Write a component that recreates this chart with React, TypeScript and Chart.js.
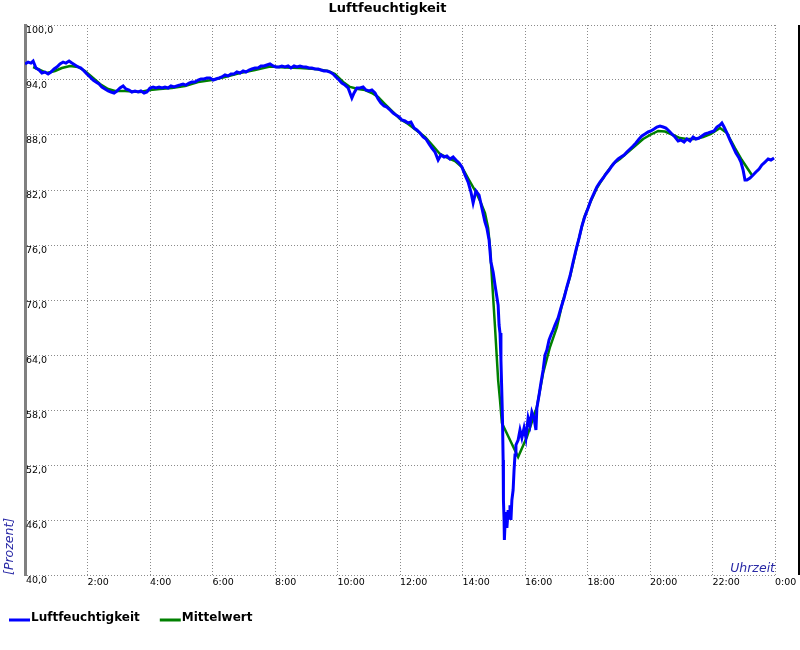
import React, { useEffect, useRef } from 'react';
import { Chart, registerables } from 'chart.js';

Chart.register(...registerables);

// ---------- texts ----------
const chartTitle = 'Luftfeuchtigkeit';
const yAxisTitle = '[Prozent]';
const xAxisTitle = 'Uhrzeit';
const seriesNames = ['Luftfeuchtigkeit', 'Mittelwert'];

// ---------- axes ----------
const yMin = 40;
const yMax = 100;
const yStep = 6;
const xMin = 0;
const xMax = 24;
const xStep = 2;

// ---------- series: Luftfeuchtigkeit (hours, percent) ----------
const humidityHours = [
  0.0, 0.1, 0.19, 0.26, 0.35, 0.45, 0.54, 0.64, 0.74, 0.83, 0.93, 1.02, 1.12, 1.22, 1.31, 1.41, 1.5, 1.6, 1.7, 1.79,
  1.89, 1.98, 2.08, 2.18, 2.27, 2.37, 2.46, 2.56, 2.66, 2.75, 2.85, 2.94, 3.04, 3.14, 3.23, 3.33, 3.42, 3.52, 3.62, 3.71,
  3.81, 3.9, 4.0, 4.1, 4.19, 4.29, 4.38, 4.48, 4.58, 4.67, 4.77, 4.86, 4.96, 5.06, 5.15, 5.25, 5.34, 5.44, 5.54, 5.63,
  5.73, 5.82, 5.92, 6.02, 6.11, 6.21, 6.3, 6.4, 6.5, 6.59, 6.69, 6.78, 6.88, 6.98, 7.07, 7.17, 7.26, 7.36, 7.46, 7.55,
  7.65, 7.74, 7.84, 7.94, 8.03, 8.13, 8.22, 8.32, 8.42, 8.51, 8.61, 8.7, 8.8, 8.9, 8.99, 9.09, 9.18, 9.28, 9.38, 9.47,
  9.57, 9.66, 9.76, 9.86, 9.95, 10.05, 10.14, 10.24, 10.34, 10.4, 10.46, 10.53, 10.62, 10.72, 10.82, 10.91, 11.01, 11.1, 11.2, 11.3,
  11.39, 11.49, 11.58, 11.68, 11.78, 11.87, 11.97, 12.06, 12.16, 12.26, 12.35, 12.45, 12.54, 12.64, 12.74, 12.83, 12.93, 13.02, 13.12, 13.22,
  13.31, 13.41, 13.5, 13.6, 13.7, 13.79, 13.89, 13.98, 14.08, 14.18, 14.27, 14.34, 14.43, 14.53, 14.62, 14.72, 14.78, 14.85, 14.91, 14.98,
  15.04, 15.1, 15.14, 15.17, 15.2, 15.23, 15.26, 15.28, 15.3, 15.31, 15.33, 15.34, 15.36, 15.39, 15.42, 15.46, 15.49, 15.52, 15.55, 15.58,
  15.62, 15.65, 15.68, 15.71, 15.78, 15.84, 15.9, 15.97, 16.03, 16.1, 16.16, 16.22, 16.29, 16.35, 16.38, 16.45, 16.51, 16.58, 16.64, 16.7,
  16.77, 16.83, 16.9, 16.96, 17.06, 17.15, 17.25, 17.34, 17.44, 17.54, 17.63, 17.73, 17.82, 17.92, 18.02, 18.11, 18.21, 18.3, 18.4, 18.5,
  18.59, 18.69, 18.78, 18.88, 18.98, 19.07, 19.17, 19.26, 19.36, 19.46, 19.55, 19.65, 19.74, 19.84, 19.94, 20.03, 20.13, 20.22, 20.32, 20.42,
  20.51, 20.61, 20.7, 20.8, 20.9, 20.99, 21.09, 21.18, 21.28, 21.38, 21.47, 21.57, 21.66, 21.76, 21.86, 21.95, 22.05, 22.14, 22.24, 22.3,
  22.37, 22.46, 22.56, 22.66, 22.75, 22.85, 22.91, 22.98, 23.04, 23.1, 23.2, 23.3, 23.39, 23.49, 23.58, 23.68, 23.78, 23.87, 23.97,
];
const humidityValues = [
  95.75, 95.96, 95.85, 96.07, 95.31, 95.09, 94.76, 94.87, 94.65, 94.87, 95.2, 95.42, 95.75, 95.96, 95.85, 96.07, 95.85, 95.64, 95.42, 95.31,
  94.98, 94.65, 94.33, 94.0, 93.78, 93.56, 93.24, 93.02, 92.8, 92.69, 92.58, 92.8, 93.13, 93.35, 93.02, 92.91, 92.69, 92.8, 92.69, 92.8,
  92.58, 92.69, 93.13, 93.24, 93.13, 93.24, 93.13, 93.24, 93.13, 93.35, 93.24, 93.35, 93.45, 93.56, 93.45, 93.67, 93.78, 93.78, 94.0, 94.11,
  94.11, 94.22, 94.22, 94.0, 94.11, 94.22, 94.33, 94.55, 94.44, 94.65, 94.65, 94.87, 94.76, 94.98, 94.87, 95.09, 95.2, 95.31, 95.31, 95.53,
  95.53, 95.64, 95.75, 95.53, 95.42, 95.42, 95.53, 95.42, 95.53, 95.31, 95.53, 95.42, 95.53, 95.42, 95.42, 95.31, 95.31, 95.2, 95.2, 95.09,
  94.98, 94.98, 94.87, 94.65, 94.33, 94.0, 93.67, 93.45, 93.13, 92.58, 92.04, 92.58, 93.13, 93.13, 93.24, 92.91, 92.8, 92.91, 92.58, 91.93,
  91.49, 91.16, 91.05, 90.73, 90.4, 90.18, 89.96, 89.64, 89.53, 89.31, 89.42, 88.76, 88.55, 88.22, 87.78, 87.56, 87.02, 86.58, 86.15, 85.27,
  85.82, 85.6, 85.71, 85.38, 85.6, 85.27, 84.95, 84.51, 83.64, 82.87, 81.78, 80.58, 81.89, 81.45, 80.04, 78.51, 77.85, 76.55, 74.15, 73.05,
  71.64, 70.33, 69.45, 67.27, 66.4, 63.45, 59.64, 56.91, 52.55, 48.18, 46.0, 43.82, 45.45, 46.87, 45.13, 47.09, 46.22, 47.6, 46.0, 48.18,
  49.27, 51.45, 53.09, 54.18, 54.73, 55.82, 54.96, 56.04, 54.96, 57.13, 56.36, 57.78, 57.13, 55.82, 58.22, 59.64, 60.95, 62.36, 64.0, 64.55,
  65.64, 66.18, 66.73, 67.27, 68.04, 69.13, 70.22, 71.42, 72.62, 74.15, 75.45, 76.76, 78.07, 79.16, 80.04, 80.91, 81.67, 82.33, 82.87, 83.31,
  83.75, 84.18, 84.62, 85.05, 85.38, 85.6, 85.82, 86.15, 86.47, 86.8, 87.13, 87.56, 87.89, 88.11, 88.33, 88.44, 88.65, 88.87, 88.98, 88.87,
  88.76, 88.44, 88.11, 87.78, 87.35, 87.45, 87.24, 87.56, 87.35, 87.78, 87.56, 87.67, 87.89, 88.11, 88.22, 88.33, 88.44, 88.87, 89.09, 89.31,
  88.87, 88.22, 87.45, 86.69, 86.04, 85.49, 85.05, 84.18, 83.09, 83.09, 83.31, 83.64, 83.96, 84.29, 84.73, 85.05, 85.38, 85.27, 85.49,
];

// ---------- series: Mittelwert (hours, percent) ----------
const meanHours = [
  0.26, 0.48, 0.7, 0.96, 1.18, 1.44, 1.7, 1.92, 2.18, 2.4, 2.66, 2.88, 3.2, 3.68, 4.0, 4.32, 4.7, 5.12, 5.54, 5.98,
  6.4, 6.88, 7.36, 7.84, 8.32, 8.8, 9.28, 9.7, 9.92, 10.18, 10.4, 10.66, 10.88, 11.1, 11.3, 11.52, 11.74, 12.0, 12.26, 12.51,
  12.8, 13.06, 13.28, 13.54, 13.76, 13.98, 14.21, 14.43, 14.59, 14.72, 14.82, 14.88, 14.94, 15.04, 15.14, 15.2, 15.26, 15.78, 16.06, 16.38,
  16.58, 16.8, 17.02, 17.22, 17.44, 17.66, 17.89, 18.08, 18.3, 18.56, 18.82, 19.04, 19.26, 19.52, 19.78, 20.0, 20.26, 20.48, 20.74, 20.96,
  21.18, 21.44, 21.7, 21.95, 22.24, 22.46, 22.72, 22.94, 23.26,
];
const meanValues = [
  95.42, 95.09, 94.76, 94.98, 95.31, 95.53, 95.42, 94.98, 94.22, 93.56, 93.02, 92.8, 92.8, 92.69, 92.91, 93.02, 93.13, 93.35, 93.78, 94.0,
  94.33, 94.76, 95.09, 95.47, 95.36, 95.31, 95.2, 94.98, 94.65, 93.78, 93.24, 93.02, 92.91, 92.58, 92.15, 91.38, 90.62, 89.75, 89.2, 88.55,
  87.78, 86.8, 85.93, 85.49, 85.16, 84.51, 83.09, 81.78, 80.58, 79.49, 77.85, 75.78, 72.51, 67.05, 61.27, 59.09, 56.58, 52.87, 55.05, 58.33,
  62.04, 64.87, 67.05, 70.0, 72.51, 75.78, 78.95, 80.58, 82.22, 83.64, 84.84, 85.38, 86.04, 86.8, 87.56, 88.0, 88.44, 88.38, 88.0, 87.67,
  87.56, 87.56, 87.78, 88.11, 88.76, 88.22, 86.58, 85.27, 83.64,
];

const FONT = 'DejaVu Sans';
const AXIS_TEXT_COLOR = '#2a2aa6';

const xTitlePlugin = {
  id: 'xTitleInside',
  afterDraw(chart: any) {
    const { ctx, chartArea } = chart;
    ctx.save();
    ctx.font = `italic 12.5px "${FONT}"`;
    ctx.fillStyle = AXIS_TEXT_COLOR;
    ctx.textAlign = 'right';
    ctx.textBaseline = 'alphabetic';
    ctx.fillText(xAxisTitle, chartArea.right, chartArea.bottom - 3);
    ctx.restore();
  },
};

const frameEdgePlugin = {
  id: 'frameEdge',
  afterDraw(chart: any) {
    const { ctx, chartArea } = chart;
    ctx.save();
    ctx.strokeStyle = '#000000';
    ctx.lineWidth = 2;
    ctx.beginPath();
    ctx.moveTo(chart.width - 1, chartArea.top);
    ctx.lineTo(chart.width - 1, chartArea.bottom);
    ctx.stroke();
    ctx.restore();
  },
};

const bottomLegendPlugin = {
  id: 'bottomLegend',
  afterDraw(chart: any) {
    const { ctx } = chart;
    const y = chart.height - 30;
    let x = 9;
    ctx.save();
    ctx.font = `bold 12px "${FONT}"`;
    ctx.textBaseline = 'alphabetic';
    ctx.textAlign = 'left';
    chart.data.datasets.forEach((ds: any) => {
      ctx.strokeStyle = ds.borderColor;
      ctx.lineWidth = 3;
      ctx.beginPath();
      ctx.moveTo(x, y);
      ctx.lineTo(x + 21, y);
      ctx.stroke();
      x += 22;
      ctx.fillStyle = '#000000';
      ctx.fillText(ds.label, x, y + 1);
      x += ctx.measureText(ds.label).width + 20;
    });
    ctx.restore();
  },
};

export default function App() {
  const canvasRef = useRef<HTMLCanvasElement | null>(null);

  useEffect(() => {
    if (!canvasRef.current) return;
    const toPoints = (xs: number[], ys: number[]) => xs.map((x, i) => ({ x, y: ys[i] }));
    const chart = new Chart(canvasRef.current, {
      type: 'line',
      data: {
        datasets: [
          {
            label: seriesNames[0],
            data: toPoints(humidityHours, humidityValues),
            borderColor: '#0000ff',
            borderWidth: 3,
            pointRadius: 0,
            tension: 0,
          },
          {
            label: seriesNames[1],
            data: toPoints(meanHours, meanValues),
            borderColor: '#008000',
            borderWidth: 2.5,
            pointRadius: 0,
            tension: 0,
          },
        ],
      },
      options: {
        animation: false,
        responsive: false,
        parsing: false as any,
        layout: { padding: { left: 0, right: 25, top: 0, bottom: 50 } },
        plugins: {
          legend: { display: false },
          tooltip: { enabled: false },
          title: {
            display: true,
            text: chartTitle,
            color: '#000000',
            font: { family: FONT, size: 13, weight: 'bold' },
            padding: { top: 0.5, bottom: 8.9 },
          },
        },
        scales: {
          x: {
            type: 'linear',
            min: xMin,
            max: xMax,
            afterFit: (s: any) => {
              s.height = 25;
            },
            ticks: {
              stepSize: xStep,
              autoSkip: false,
              maxRotation: 0,
              minRotation: 0,
              align: 'start',
              padding: 2,
              color: '#000000',
              font: { family: FONT, size: 9.5 },
              callback: (v: any) => (Number(v) === 0 ? '' : `${Number(v) % 24}:00`),
            },
            grid: { color: '#8a8a8a', lineWidth: 1, drawTicks: false, tickLength: 0 },
            border: { display: false, dash: [1, 2] },
          },
          y: {
            type: 'linear',
            min: yMin,
            max: yMax,
            afterFit: (s: any) => {
              s.width = 25;
            },
            ticks: {
              stepSize: yStep,
              mirror: true,
              padding: 1,
              labelOffset: 6,
              color: '#000000',
              font: { family: FONT, size: 9.5 },
              callback: (v: any) => Number(v).toFixed(1).replace('.', ','),
            },
            grid: { color: '#8a8a8a', lineWidth: 1, drawTicks: false, tickLength: 0 },
            border: { display: true, color: '#808080', width: 3, dash: [1, 2] },
            title: {
              display: true,
              text: yAxisTitle,
              align: 'start',
              color: AXIS_TEXT_COLOR,
              font: { family: FONT, size: 12.5, style: 'italic' },
              padding: { top: 2, bottom: 0 },
            },
          },
        },
      },
      plugins: [xTitlePlugin, frameEdgePlugin, bottomLegendPlugin],
    });
    return () => chart.destroy();
  }, []);

  return (
    <div style={{ position: 'absolute', left: 0, top: 0, width: 800, height: 650, background: '#ffffff' }}>
      <canvas ref={canvasRef} width={800} height={650} style={{ display: 'block' }} />
    </div>
  );
}
